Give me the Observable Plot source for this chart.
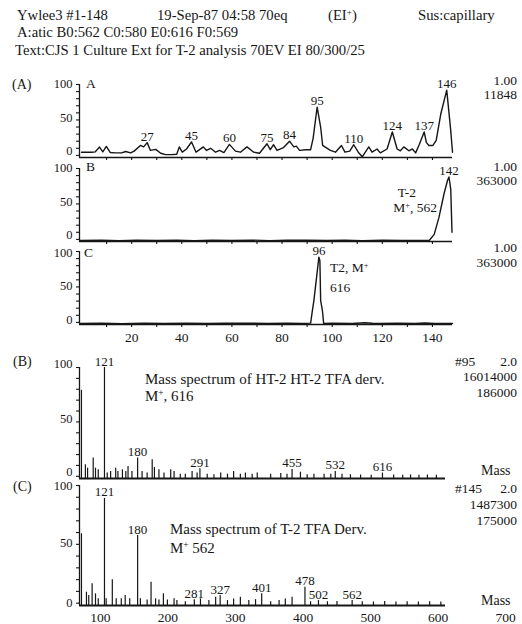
<!DOCTYPE html>
<html><head><meta charset="utf-8">
<script src="https://cdn.jsdelivr.net/npm/d3@7"></script>
<script src="https://cdn.jsdelivr.net/npm/@observablehq/plot@0.6"></script>
<style>
body{margin:0;background:#fff;}
#page{position:relative;width:522px;height:624px;overflow:hidden;background:#fff;color:#161616;font-family:"Liberation Serif","Times New Roman",serif;}
#page svg{position:absolute;left:0;top:0;}
.t{position:absolute;white-space:nowrap;line-height:1;}
.t sup{font-size:0.62em;line-height:0;vertical-align:0.5em;}
</style></head>
<body><div id="page"></div>
<script>
// ---------- Chromatogram data (scan number, % intensity) ----------
const chromScanA = [0,1.6,4,5.5,7.2,8.5,9.9,11.5,13.5,16,17.6,19.6,21,23.5,24.8,26.2,27.5,29.6,31.6,33.5,36,38,39,40.2,41.9,43.9,45.7,48.6,49.9,51.5,53.5,55.1,56.8,59,61.4,63.4,66,68.7,71,74,75.3,76.6,78,80.6,83,84.7,85.7,87,89.4,91.4,92.4,94,95.4,96.2,98,99.3,101.3,103.7,105.1,107,108.6,110.4,112,114.6,115.9,117.9,119.2,121.9,124,125.9,127.2,128.6,130.6,132,133.3,134.7,136.7,137.6,138.6,140.2,141.5,143.3,145.7,147.3,148];
const chromIntA  = [4.5,4.6,4.5,5,11.7,5,12.7,4,3.5,3.5,5.5,3.5,6,14,12,18,7,8.5,3,1,1,1.5,12,4.5,9,19,4.5,12,7,10,4.5,7,4,15.5,6,4.5,12,4.5,3,16.4,8,15,7,11,20,12,13,7,8,8,24,68,40,14,10,7,4.5,14,4.5,6,15,4.5,-2,12,4.5,9,3.5,9,33,9,6.5,12,6.5,9,3.5,15,33,18,14,14,21,58,92,35,4.5];
const peakScanA  = [26.2,43.9,59,74,83,94,108.6,124,136.7,145.7];
const peakTextA  = ["27","45","60","75","84","95","110","124","137","146"];

const chromScanB = [-0.5,8,15,22,30,38,45,52,60,68,75,82,90,98,105,112,120,128,134,138.7,140.7,142.6,144.6,146,146.6,147.3,147.8];
const chromIntB  = [-1.5,-1.2,-1.8,-1,-1.6,-1.3,-1.7,-1.1,-1.5,-1,-1.7,-1.3,-1.2,-1.6,-1.2,-1.8,-1.3,-1.5,-1.4,-1.5,7,31,64,83,88,71,10];
const peakScanB  = [146.6];
const peakTextB  = ["142"];

const chromScanC = [-0.5,8,16,25,33,42,50,58,66,74,82,88,91.4,92.1,92.7,94.7,95.1,95.4,96.1,96.6,100,108,113,116,119,126,133,137,141,148];
const chromIntC  = [-1.5,-1.2,-1.7,-1.1,-1.5,-1.2,-1.6,-1.3,-1.1,-1.6,-1.3,-1.5,-1,16.7,30.8,92,87,31,16.7,-1.5,-1.3,-1.6,-0.5,-1.2,-1.5,-1.3,-1.6,-0.8,-1.4,-1.5];
const peakScanC  = [94.7];
const peakTextC  = ["96"];

const scanTicks  = [20,40,60,80,100,120,140];

// ---------- Mass spectra (mass, % intensity) ----------
const specMassB = [71.8,77.6,80.9,89.2,92.6,96.7,105.9,110,115,122.5,125.8,132.5,137.5,140.8,146.6,155,161.6,169.1,176.6,179.9,186.6,194.1,204,209,218.2,225.7,235.7,243.1,247.3,258.1,268.1,278.1,288.1,297.2,307.2,314.7,324.7,332.2,352.1,367.1,376.3,383.8,396.2,406.2,416.2,431.2,441.2,447.8,457.8,470.3,485.3,501.1,517.7,534.3,547.7,559.3,571.8,584.3,597.6];
const specIntB  = [79,10.6,7.5,16.8,7.5,6,100,3,4.5,7.5,4.5,6,4.5,9,4.5,16.8,4.5,3,15.3,8.2,6,3,6,4.5,2,2,4.5,3,7,2,1.5,3,2,4.5,2,3,2,3,2,2.5,2,6.3,3.8,1.5,2,2,2,4.5,2,1.5,1.2,1,3,1.2,1,1.3,1,1.2,1];
const peakMassB = [105.9,155,247.3,383.8,447.8,517.7];
const peakTextSpecB = ["121","180","291","455","532","616"];

const specMassC = [71.8,79.2,82.6,87.6,92.6,96.7,105.9,108.4,117.5,123.3,130.8,136.6,143.3,155,159.1,169.1,174.9,181.6,186.6,193.2,199.1,209,213.2,225.7,239,248.1,260.6,270.6,277.3,288.1,297.2,307.2,319.7,329.7,338.8,352.1,364.6,373.8,383.8,402.9,411.2,422.9,436.2,450.3,472.8,487.8,504.4,521,537.7,554.3,571,587.6,604.2];
const specIntC  = [59,9.3,6.5,16.4,7.9,3.7,89,3.7,19.8,3.7,3.7,6.5,3.7,57.5,3.7,2.7,17.8,3.7,2.7,7.9,2.7,3.7,2.2,1.2,2.8,3.6,2.2,5,6.5,2.2,3.6,5,2.2,3,7.9,1.2,2.2,3.6,5,13.5,1.2,2.2,1.2,1.5,2.2,1.2,1,1.5,1,1.2,1,1.2,1];
const peakMassC = [105.9,155,239,277.3,338.8,402.9,422.9,472.8];
const peakTextSpecC = ["121","180","281","327","401","478","502","562"];

const massTicks = [100,200,300,400,500,600,700];
const pctLabels = [0,50,100];

// ---------- layout ----------
const W = 522, H = 624;
const ink = "#161616";
const serif = "'Liberation Serif','Times New Roman',serif";
const page = document.getElementById("page");

const scanDomain = [-0.8, 148];
const massDomain = [68.9, 611.1];

function zip(xs, ys, kx, ky) { return xs.map((x, i) => ({[kx]: x, [ky]: ys[i]})); }
function labelsFrom(xs, texts, X, Y, kx) {
  return xs.map((x, i) => ({[kx]: x, v: Y[X.indexOf(x)], t: texts[i]}));
}

function place(opts) {
  const svg = Plot.plot({
    width: W, height: H,
    marginLeft: opts.left, marginRight: W - opts.right,
    marginTop: opts.top, marginBottom: H - opts.bottom,
    x: {domain: opts.x, label: null}, y: {domain: opts.y, label: null},
    style: {background: "transparent", overflow: "visible", color: ink, fontFamily: serif, fontSize: "13px"},
    marks: opts.marks
  });
  page.appendChild(svg);
}

// offsets: small vertical nudges for the 0 / 50 / 100 labels
function yAxisMarks(y0, x0, offsets) {
  return [
    Plot.ruleX([x0], {y1: y0, y2: 100, stroke: ink, strokeWidth: 1.3}),
    Plot.axisY({ticks: d3.range(0, 101, 10), tickSize: 3, tickFormat: () => "", label: null, strokeWidth: 1.1}),
    ...pctLabels.map((p, i) =>
      Plot.axisY({ticks: [p], tickSize: 0, tickPadding: 7, label: null, fontSize: 12.5, dy: offsets[i]}))
  ];
}

function chrom(scan, val, pScan, pText, top, bottom, showX, offsets) {
  const data = zip(scan, val, "s", "v");
  const labs = labelsFrom(pScan, pText, scan, val, "s");
  place({
    x: scanDomain, y: [-3, 100], left: 79, right: 452, top, bottom,
    marks: [
      Plot.ruleY([-3], {stroke: ink, strokeWidth: 1.7}),
      ...yAxisMarks(-3, scanDomain[0], offsets),
      Plot.axisX({ticks: d3.range(10, 141, 10), tickSize: 3, tickFormat: () => "", label: null, strokeWidth: 1.1}),
      showX ? Plot.axisX({ticks: scanTicks, tickSize: 0, tickPadding: 8, label: null, fontSize: 13.5}) : null,
      Plot.line(data, {x: "s", y: "v", stroke: ink, strokeWidth: 1.4}),
      Plot.text(labs, {x: "s", y: "v", text: "t", lineAnchor: "bottom", dy: -2, fontSize: 13, fill: ink})
    ]
  });
}

function spectrum(mass, val, pMass, pText, top, bottom, showX, offsets) {
  const data = zip(mass, val, "m", "v");
  const labs = labelsFrom(pMass, pText, mass, val, "m");
  place({
    x: massDomain, y: [-2, 100], left: 79, right: 445, top, bottom,
    marks: [
      Plot.ruleX(data, {x: "m", y1: -2, y2: "v", stroke: ink, strokeWidth: 1.2}),
      Plot.ruleY([-2], {stroke: ink, strokeWidth: 2}),
      ...yAxisMarks(-2, massDomain[0], offsets),
      Plot.axisX({ticks: showX ? massTicks : [], tickSize: 0, tickPadding: 7, label: null, fontSize: 13.5}),
      Plot.text(labs, {x: "m", y: "v", text: "t", lineAnchor: "bottom", dy: -2, fontSize: 13, fill: ink})
    ]
  });
}

chrom(chromScanA, chromIntA, peakScanA, peakTextA, 84, 157, false, [-4, -2, -1]);
chrom(chromScanB, chromIntB, peakScanB, peakTextB, 168, 241, false, [-4, -2, -1]);
chrom(chromScanC, chromIntC, peakScanC, peakTextC, 251, 324, true, [-2, -1, 1]);
spectrum(specMassB, specIntB, peakMassB, peakTextSpecB, 367, 478, false, [-4, -3, -4]);
spectrum(specMassC, specIntC, peakMassC, peakTextSpecC, 485, 605, true, [0, -1, 0]);

// ---------- text annotations ----------
function note(html, x, y, anchor, size) {
  size = size || 14.7;
  const d = document.createElement("div");
  d.className = "t";
  d.innerHTML = html;
  d.style.fontSize = size + "px";
  d.style.top = (y - size * 0.51) + "px";
  if (anchor === "end") d.style.right = (W - x) + "px";
  else if (anchor === "middle") { d.style.left = x + "px"; d.style.transform = "translateX(-50%)"; }
  else d.style.left = x + "px";
  page.appendChild(d);
}
const sup = "<sup>+</sup>";
note("Ywlee3 #1-148", 17, 15);
note("19-Sep-87 04:58 70eq", 157, 15);
note("(EI" + sup + ")", 328, 15);
note("Sus:capillary", 418, 15);
note("A:atic B0:562 C0:580 E0:616 F0:569", 17, 32);
note("Text:CJS 1 Culture Ext for T-2 analysis 70EV EI 80/300/25", 15, 50);

note("(A)", 12, 85, "start", 14);
note("A", 86, 84, "start", 13.5);
note("B", 86, 167, "start", 13.5);
note("C", 84, 253, "start", 13.5);
note("1.00", 517, 81, "end", 13.5);
note("11848", 517, 95, "end", 13.5);
note("1.00", 517, 167, "end", 13.5);
note("363000", 517, 181, "end", 13.5);
note("1.00", 517, 248, "end", 13.5);
note("363000", 517, 263, "end", 13.5);
note("T-2", 407, 193, "middle", 13.5);
note("M" + sup + ", 562", 437, 208, "end", 13.5);
note("T2, M" + sup, 330, 268, "start", 13.5);
note("616", 330, 288, "start", 13.5);

note("(B)", 13, 362, "start", 14);
note("Mass spectrum of HT-2 HT-2 TFA derv.", 145, 380, "start", 15);
note("M" + sup + ", 616", 145, 397, "start", 15);
note("#95", 455, 362, "start", 13.5);
note("2.0", 517, 362, "end", 13.5);
note("16014000", 517, 377, "end", 13.5);
note("186000", 517, 393, "end", 13.5);
note("Mass", 481, 471, "start", 14);

note("(C)", 13, 487, "start", 14);
note("#145", 455, 489, "start", 13.5);
note("2.0", 517, 489, "end", 13.5);
note("1487300", 517, 505, "end", 13.5);
note("175000", 517, 521, "end", 13.5);
note("Mass spectrum of T-2 TFA Derv.", 170, 530, "start", 15);
note("M" + sup + " 562", 170, 549, "start", 15);
note("Mass", 481, 601, "start", 14);
</script>
</body></html>
